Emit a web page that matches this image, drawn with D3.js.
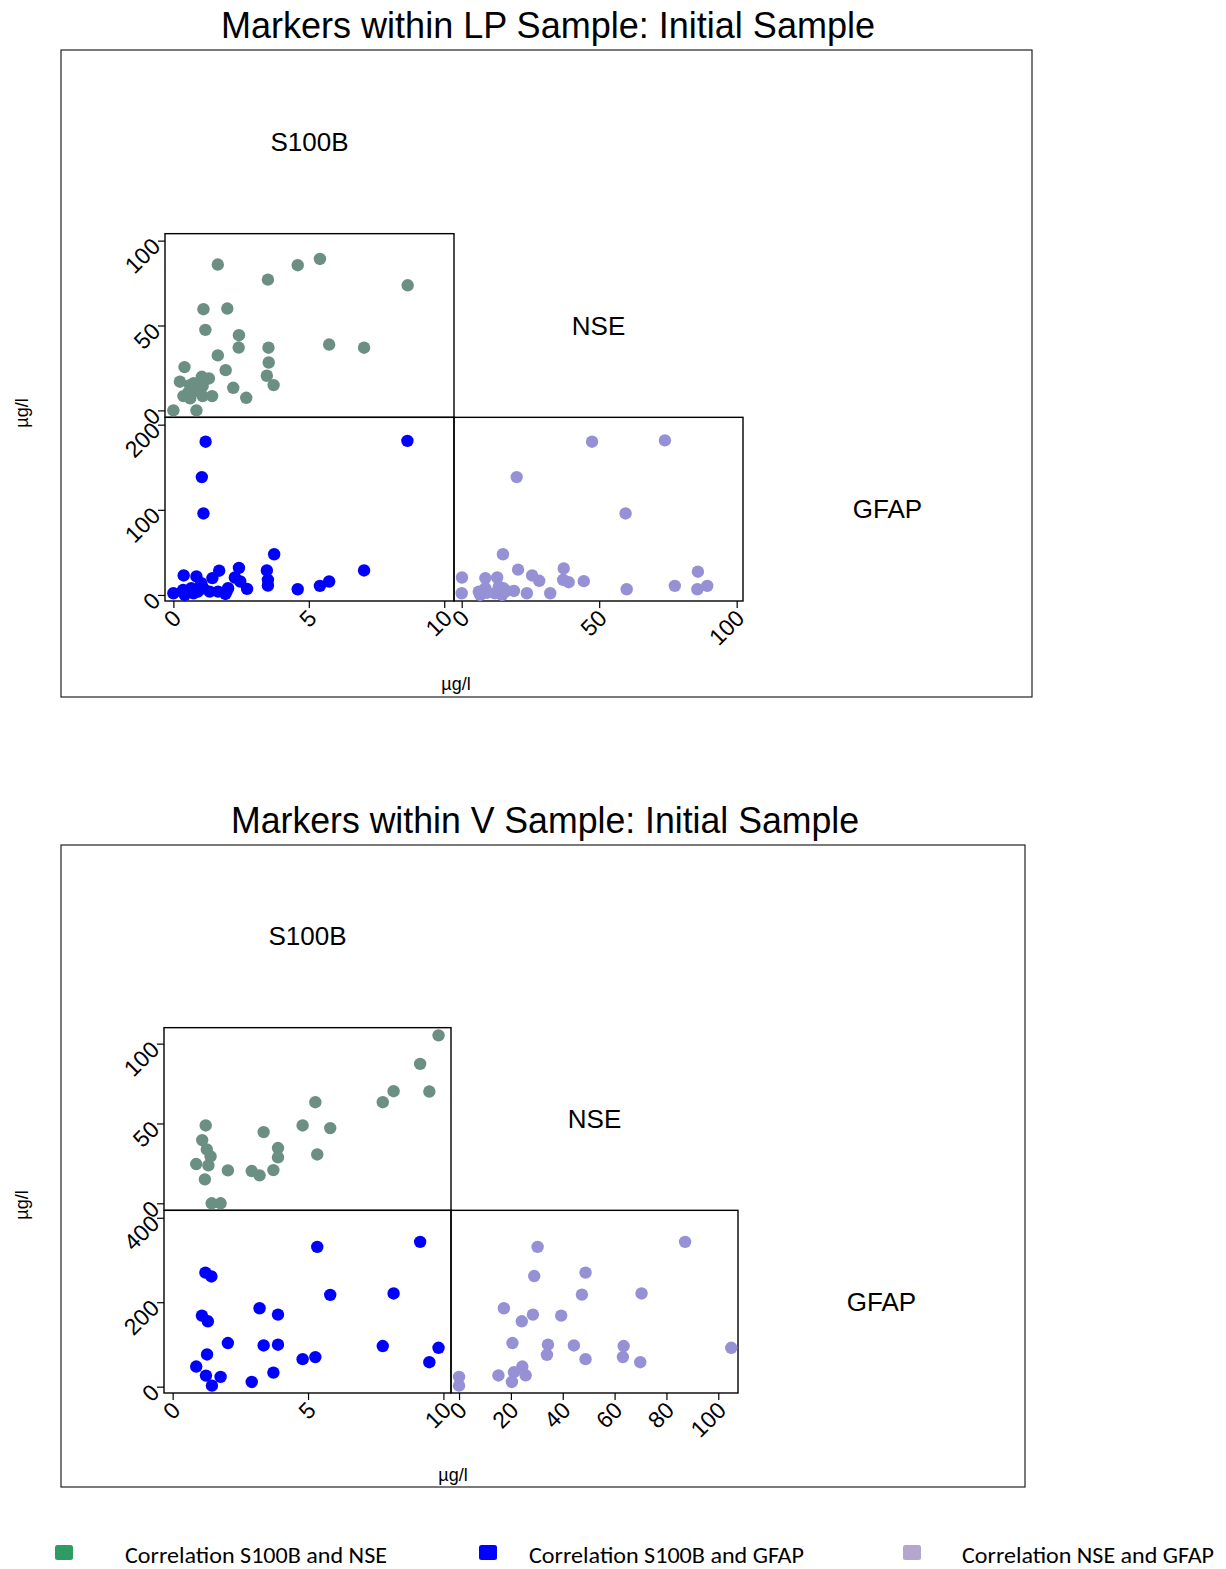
<!DOCTYPE html>
<html>
<head>
<meta charset="utf-8">
<script src="https://cdn.jsdelivr.net/npm/d3@7"></script>
<style>
  html, body { margin: 0; padding: 0; background: #fff; }
  svg { display: block; }
  text { font-family: "Liberation Sans", Arial, sans-serif; fill: #000; }
</style>
</head>
<body>
<svg id="chart" width="1226" height="1569"></svg>
<script>
// ---- Data (µg/l) -------------------------------------------------------
const markers = ["S100B", "NSE", "GFAP"];
const panelTitles = ["Markers within LP Sample: Initial Sample", "Markers within V Sample: Initial Sample"];
const unitLabel = "µg/l";

// LP sample
const lpS100bNse = [[0,0],[0.85,0],[1.64,85.9],[3.49,77],[4.59,85.5],[5.41,89.2],[8.65,73.7],[1.11,59.6],[1.99,60],
  [1.18,47.4],[2.42,44.3],[2.41,37],[3.51,36.9],[5.75,38.8],[7.04,36.9],[1.64,32.4],[3.52,28.2],[0.41,25.5],
  [1.93,23.7],[3.45,20.4],[3.70,14.9],[0.24,16.9],[0.61,14.9],[1.05,19.8],[1.31,18.8],[1.08,14.3],[2.21,13.3],
  [0.37,8.4],[0.62,7.1],[0.85,11.5],[1.08,8.4],[1.43,8.4],[2.69,7.4],[0.55,10.5],[0.75,16]];
const lpS100bGfap = [[1.19,180],[1.05,138.4],[1.11,95.7],[8.64,181],[3.72,47.8],[7.04,28.8],[0.38,22.9],[0.85,21.7],
  [1.69,28.5],[2.42,31.7],[3.45,28.8],[1.44,19.8],[2.27,20.5],[2.47,15.8],[3.49,17.8],[3.49,11.1],[4.59,6.7],
  [5.41,10.7],[5.75,15.8],[2.72,7.1],[1.96,3.9],[1.92,1.2],[1.65,3.9],[1.03,13.9],[1.34,3.9],[1.1,7.9],
  [0.66,7.9],[0.74,2.0],[0.42,0],[0.36,5.9],[0,2],[2.02,7.9],[0.9,4]];
const lpNseGfap = [[47.4,180],[73.9,181.5],[20.0,138.4],[59.6,95.7],[15.0,47.8],[0.1,20.5],[0,2],[8.6,19.8],
  [12.9,20.5],[20.5,29.7],[25.6,22.9],[28.2,16.6],[37.1,31.2],[36.9,17.8],[38.9,15],[44.4,16.2],[32.2,2],
  [23.7,2],[60,6.7],[77.5,10.7],[85.9,27.3],[85.7,6.7],[89.3,10.7],[6.2,3.9],[8.6,7.9],[6.7,0],[9.1,2.4],
  [13.5,9.8],[14.7,0],[19,4.7],[12.1,2],[15.1,7.9],[16.3,4.7]];

// V sample
const vS100bNse = [[9.82,105.2],[9.14,87.3],[9.48,70],[8.16,70.2],[7.76,63.3],[5.27,63.3],[4.80,48.75],[5.82,47.1],
  [5.34,30.6],[3.36,44.6],[3.89,34.6],[3.89,28.75],[3.72,20.8],[3.21,17.5],[2.92,20.2],[2.04,20.6],[1.22,48.75],
  [1.09,39.6],[1.26,33.75],[1.40,29.4],[1.32,23.75],[0.87,24.6],[1.19,15],[1.44,0],[1.77,0]];
const vS100bGfap = [[5.34,331],[9.14,343],[1.21,270],[1.43,261],[5.82,217.5],[8.16,220.7],[3.21,185.7],[3.89,170.7],
  [1.08,168.3],[1.30,154.8],[2.04,103.3],[3.36,97.6],[3.89,99.3],[7.76,96.2],[9.82,92.1],[1.27,76.2],[4.80,65.2],
  [5.27,70],[9.48,58],[0.87,47.6],[1.23,26.2],[1.77,23.1],[3.72,33.3],[2.92,11.2],[1.45,2.4]];
const vNseGfap = [[87.2,343],[30.3,331],[29.0,262],[48.8,270],[47.4,218],[70.4,220.7],[17.3,185.7],[24.2,154.8],
  [28.5,170.7],[39.4,168.3],[20.6,103.3],[34.3,99.3],[44.3,97.6],[63.5,96.2],[105,92.1],[33.9,75.5],[48.8,65.2],
  [63.2,70],[69.9,58],[15.2,26.6],[24.4,47.6],[25.7,27],[21.2,34.2],[20.4,11.2],[0,23.1],[0,2.4]];

// Tick values
const lpTicksS100b = [0, 5, 10];
const lpTicksNse = [0, 50, 100];
const lpTicksNseX = [0, 50, 100];
const lpTicksGfap = [0, 100, 200];
const vTicksS100b = [0, 5, 10];
const vTicksNse = [0, 50, 100];
const vTicksNseX = [0, 20, 40, 60, 80, 100];
const vTicksGfap = [0, 200, 400];

const legendLabels = ["Correlation S100B and NSE", "Correlation S100B and GFAP", "Correlation NSE and GFAP"];

// ---- Styling ----------------------------------------------------------
const colors = { s100bNse: "#6b8f82", s100bGfap: "#0000ff", nseGfap: "#9591d4" };
const legendColors = ["#2e9b62", "#0000ff", "#b3a6cf"];

const svg = d3.select("#chart");

// Panel layout: plot region plus 3x3 lower-triangle matrix
const panels = [
  {
    title: panelTitles[0], titleY: 38, titleX: 548, titleW: 654,
    frame: { x0: 61, y0: 50, x1: 1032, y1: 697 },
    left: 165, top: 50, cw: 289, ch: 551 / 3,
    xDom1: [-0.31, 10.36], xDom2: [-2.8, 102.3],
    yDom2: [-4.1, 104.1], yDom3: [-7.1, 208.6],
    xTicks1: lpTicksS100b, xTicks2: lpTicksNseX, yTicks2: lpTicksNse, yTicks3: lpTicksGfap,
    d21: lpS100bNse, d31: lpS100bGfap, d32: lpNseGfap,
    yLab: { x: 22, y: 413 }, xLab: { x: 456, y: 690 }
  },
  {
    title: panelTitles[1], titleY: 833, titleX: 545, titleW: 628,
    frame: { x0: 61, y0: 845, x1: 1025, y1: 1487 },
    left: 164, top: 845, cw: 287, ch: 548 / 3,
    xDom1: [-0.32, 10.28], xDom2: [-3.1, 107.6],
    yDom2: [-4.4, 110], yDom3: [-15, 417.6],
    xTicks1: vTicksS100b, xTicks2: vTicksNseX, yTicks2: vTicksNse, yTicks3: vTicksGfap,
    d21: vS100bNse, d31: vS100bGfap, d32: vNseGfap,
    yLab: { x: 22, y: 1205 }, xLab: { x: 453, y: 1481 }
  }
];

function styleAxisText(g, kind) {
  g.attr("font-family", null).attr("font-size", null);
  g.select(".domain").remove();
  g.selectAll(".tick line").attr("stroke", "#000").attr("stroke-width", 1.2);
  const t = g.selectAll(".tick text")
    .attr("x", null).attr("y", null).attr("dy", "0.35em")
    .style("text-anchor", "end")
    .style("font-family", "'Liberation Sans', Arial, sans-serif")
    .style("font-size", "23px")
    .attr("fill", "#000");
  if (kind === "left") t.attr("transform", "translate(-9,1) rotate(-45)");
  else t.attr("transform", "translate(3,13) rotate(-45)");
}

panels.forEach(p => {
  const g = svg.append("g");
  const cols = [p.left, p.left + p.cw, p.left + 2 * p.cw, p.left + 3 * p.cw];
  const rows = [p.top, p.top + p.ch, p.top + 2 * p.ch, p.top + 3 * p.ch];

  // Title
  g.append("text")
    .attr("x", p.titleX).attr("y", p.titleY)
    .attr("text-anchor", "middle")
    .attr("textLength", p.titleW).attr("lengthAdjust", "spacingAndGlyphs")
    .style("font-size", "37px")
    .text(p.title);

  // Plot-region frame
  g.append("rect")
    .attr("x", p.frame.x0).attr("y", p.frame.y0)
    .attr("width", p.frame.x1 - p.frame.x0).attr("height", p.frame.y1 - p.frame.y0)
    .attr("fill", "none").attr("stroke", "#222").attr("stroke-width", 1.2);

  // Scales
  const x1 = d3.scaleLinear().domain(p.xDom1).range([cols[0], cols[1]]);
  const x2 = d3.scaleLinear().domain(p.xDom2).range([cols[1], cols[2]]);
  const y2 = d3.scaleLinear().domain(p.yDom2).range([rows[2], rows[1]]);
  const y3 = d3.scaleLinear().domain(p.yDom3).range([rows[3], rows[2]]);

  // Diagonal labels
  markers.forEach((m, i) => {
    g.append("text")
      .attr("x", (cols[i] + cols[i + 1]) / 2)
      .attr("y", (rows[i] + rows[i + 1]) / 2)
      .attr("dy", "0.35em")
      .attr("text-anchor", "middle")
      .style("font-size", "26px")
      .text(m);
  });

  // Cell frames for the lower-triangle scatter cells
  [[1, 0], [2, 0], [2, 1]].forEach(([r, c]) => {
    g.append("rect")
      .attr("x", cols[c]).attr("y", rows[r])
      .attr("width", p.cw).attr("height", p.ch)
      .attr("fill", "none").attr("stroke", "#000").attr("stroke-width", 1.4);
  });

  // Axes
  g.append("g").attr("transform", `translate(${cols[0]},0)`)
    .call(d3.axisLeft(y2).tickValues(p.yTicks2).tickSizeOuter(0).tickSize(7))
    .call(a => styleAxisText(a, "left"));
  g.append("g").attr("transform", `translate(${cols[0]},0)`)
    .call(d3.axisLeft(y3).tickValues(p.yTicks3).tickSizeOuter(0).tickSize(7))
    .call(a => styleAxisText(a, "left"));
  g.append("g").attr("transform", `translate(0,${rows[3]})`)
    .call(d3.axisBottom(x1).tickValues(p.xTicks1).tickSizeOuter(0).tickSize(7))
    .call(a => styleAxisText(a, "bottom"));
  g.append("g").attr("transform", `translate(0,${rows[3]})`)
    .call(d3.axisBottom(x2).tickValues(p.xTicks2).tickSizeOuter(0).tickSize(7))
    .call(a => styleAxisText(a, "bottom"));

  // Scatter points
  const drawDots = (data, xs, ys, color) => {
    g.append("g").selectAll("circle").data(data).join("circle")
      .attr("cx", d => xs(d[0])).attr("cy", d => ys(d[1]))
      .attr("r", 6.2).attr("fill", color);
  };
  drawDots(p.d21, x1, y2, colors.s100bNse);
  drawDots(p.d31, x1, y3, colors.s100bGfap);
  drawDots(p.d32, x2, y3, colors.nseGfap);

  // Unit labels
  g.append("text")
    .attr("transform", `translate(${p.yLab.x},${p.yLab.y}) rotate(-90)`)
    .attr("text-anchor", "middle").attr("dy", "0.35em")
    .style("font-size", "18px").text(unitLabel);
  g.append("text")
    .attr("x", p.xLab.x).attr("y", p.xLab.y)
    .attr("text-anchor", "middle")
    .style("font-size", "18px").text(unitLabel);
});

// ---- Legend -----------------------------------------------------------
const legendItems = [
  { sx: 55, tx: 125, tw: 262 },
  { sx: 479, tx: 529, tw: 275 },
  { sx: 903, tx: 962, tw: 252 }
];
const legend = svg.append("g");
legendItems.forEach((it, i) => {
  legend.append("rect")
    .attr("x", it.sx).attr("y", 1545).attr("width", 18).attr("height", 15)
    .attr("rx", 2.5).attr("fill", legendColors[i]);
  legend.append("text")
    .attr("x", it.tx).attr("y", 1563)
    .attr("textLength", it.tw).attr("lengthAdjust", "spacingAndGlyphs")
    .style("font-family", "Carlito, 'Liberation Sans Narrow', 'Liberation Sans', sans-serif")
    .style("font-size", "22px")
    .text(legendLabels[i]);
});
</script>
</body>
</html>
